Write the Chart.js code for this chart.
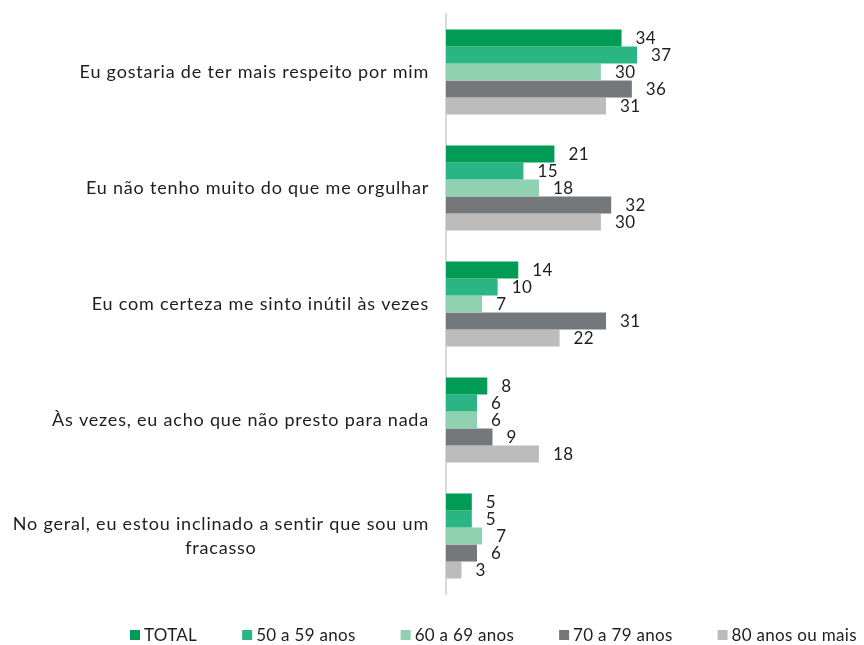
<!DOCTYPE html>
<html>
<head>
<meta charset="utf-8">
<script src="https://cdn.jsdelivr.net/npm/chart.js@4"></script>
<style>
html,body{margin:0;padding:0;background:#fff;}
#wrap{width:864px;height:645px;position:relative;}
</style>
</head>
<body>
<div id="wrap"><canvas id="c" width="864" height="645"></canvas></div>
<script>
const categories = [
  "Eu gostaria de ter mais respeito por mim",
  "Eu não tenho muito do que me orgulhar",
  "Eu com certeza me sinto inútil às vezes",
  "Às vezes, eu acho que não presto para nada",
  ["No geral, eu estou inclinado a sentir que sou um", "fracasso"]
];
const seriesNames = ["TOTAL", "50 a 59 anos", "60 a 69 anos", "70 a 79 anos", "80 anos ou mais"];
const total   = [34, 21, 14, 8, 5];
const age5059 = [37, 15, 10, 6, 5];
const age6069 = [30, 18, 7, 6, 7];
const age7079 = [36, 32, 31, 9, 6];
const age80   = [31, 30, 22, 18, 3];
const colors = ["#009b55", "#2bb585", "#8fd1b1", "#75787b", "#bcbcbc"];

const FONT = "Lato, 'Open Sans', sans-serif";
const TEXT = "#1e1e1e";

const labelPlugin = {
  id: 'customLabels',
  afterDatasetsDraw(chart) {
    const ctx = chart.ctx;
    ctx.save();
    // value labels
    ctx.font = "17px " + FONT;
    ctx.letterSpacing = "0.4px";
    ctx.fillStyle = TEXT;
    ctx.textAlign = 'left';
    ctx.textBaseline = 'middle';
    chart.data.datasets.forEach((ds, di) => {
      const meta = chart.getDatasetMeta(di);
      meta.data.forEach((bar, i) => {
        ctx.fillText(String(ds.data[i]), bar.x + 14, bar.y + 1);
      });
    });
    // category labels
    const y = chart.scales.y;
    const rightX = chart.chartArea.left - 17;
    ctx.font = "18px " + FONT;
    ctx.letterSpacing = "0.8px";
    categories.forEach((cat, i) => {
      const cy = y.getPixelForValue(i);
      if (Array.isArray(cat)) {
        const lh = 24;
        const w1 = ctx.measureText(cat[0]).width;
        const center = rightX - w1 / 2;
        const startY = cy - (cat.length - 1) * lh / 2;
        cat.forEach((line, li) => {
          ctx.textAlign = 'center';
          ctx.fillText(line, center, startY + li * lh);
        });
      } else {
        ctx.textAlign = 'right';
        ctx.fillText(cat, rightX, cy);
      }
    });
    // legend
    ctx.font = "17px " + FONT;
    ctx.letterSpacing = "0.3px";
    ctx.textAlign = 'left';
    let lx = 130;
    const ly = 635;
    chart.data.datasets.forEach((ds, di) => {
      ctx.fillStyle = ds.backgroundColor;
      ctx.fillRect(lx, ly - 5, 10, 10);
      ctx.fillStyle = TEXT;
      ctx.fillText(ds.label, lx + 14, ly + 1);
      lx += 14 + ctx.measureText(ds.label).width + 45;
    });
    ctx.restore();
  }
};

const dataArrays = [total, age5059, age6069, age7079, age80];

new Chart(document.getElementById('c'), {
  type: 'bar',
  data: {
    labels: categories.map(c => Array.isArray(c) ? c.join(' ') : c),
    datasets: seriesNames.map((name, i) => ({
      label: name,
      data: dataArrays[i],
      backgroundColor: colors[i],
      borderWidth: 0,
      categoryPercentage: 0.733,
      barPercentage: 1.0
    }))
  },
  options: {
    indexAxis: 'y',
    responsive: false,
    animation: false,
    layout: { padding: { left: 446, right: 5, top: 14, bottom: 51 } },
    scales: {
      x: { display: false, min: 0, max: 80 },
      y: {
        display: true,
        ticks: { display: false },
        grid: { display: false, drawTicks: false },
        border: { display: true, color: '#d9d9d9', width: 2 }
      }
    },
    plugins: {
      tooltip: { enabled: false },
      legend: { display: false }
    }
  },
  plugins: [labelPlugin]
});
</script>
</body>
</html>
